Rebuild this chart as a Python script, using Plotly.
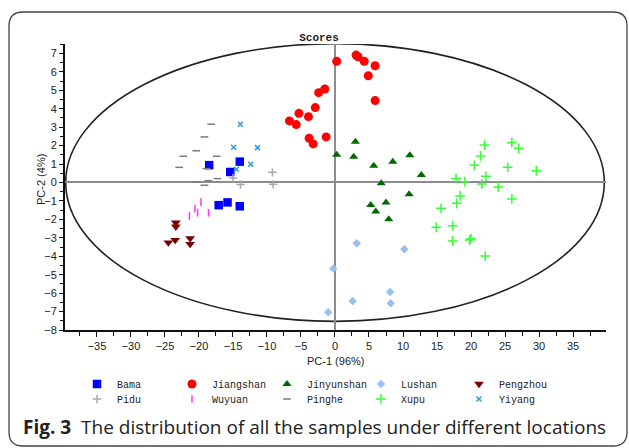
import plotly.graph_objects as go

# ---------------- data (PC-1, PC-2 scores) ----------------
bama_x = [-18.5, -14.0, -15.4, -17.1, -15.8, -14.0]
bama_y = [0.94, 1.13, 0.57, -1.23, -1.08, -1.29]

jiangshan_x = [0.25, 3.1, 3.4, 4.3, 5.9, 4.9, 5.9, -1.5, -2.4, -2.9, -5.3, -3.9, -6.7, -5.7, -3.8, -3.2, -1.3]
jiangshan_y = [6.57, 6.91, 6.82, 6.57, 6.33, 5.79, 4.44, 5.07, 4.87, 4.06, 3.75, 3.57, 3.34, 3.14, 2.40, 2.09, 2.47]

jinyunshan_x = [3.0, 0.25, 2.75, 5.7, 8.5, 11.0, 12.7, 6.8, 10.9, 5.25, 7.5, 6.0, 7.9]
jinyunshan_y = [2.21, 1.51, 1.40, 0.91, 1.13, 1.48, 0.41, -0.04, -0.64, -1.22, -1.08, -1.58, -2.00]

lushan_x = [3.2, 10.2, -0.25, 8.1, 2.6, 8.2, -1.0]
lushan_y = [-3.30, -3.62, -4.67, -5.94, -6.43, -6.55, -7.04]

pengzhou_x = [-23.4, -23.4, -23.5, -24.5, -21.3, -21.3]
pengzhou_y = [-2.18, -2.40, -3.12, -3.26, -3.03, -3.34]

pidu_x = [-15.0, -13.9, -9.2, -9.1]
pidu_y = [0.24, -0.11, 0.55, -0.10]

wuyuan_x = [-19.7, -20.6, -20.2, -21.4, -18.6]
wuyuan_y = [-1.06, -1.42, -1.64, -1.82, -1.64]

pinghe_x = [-18.2, -19.2, -20.4, -22.3, -17.4, -22.9, -18.9, -17.3, -18.6, -20.6, -19.2]
pinghe_y = [3.16, 2.47, 1.72, 1.42, 1.42, 0.82, 0.75, 0.21, 0.10, 0.04, -0.15]

xupu_x = [22.0, 26.0, 27.0, 21.4, 20.5, 25.4, 29.6, 17.8, 19.1, 22.2, 21.6, 24.0, 26.0,
          18.4, 17.9, 15.6, 14.9, 17.3, 17.3, 19.8, 20.0, 22.1]
xupu_y = [2.03, 2.16, 1.85, 1.44, 0.93, 0.82, 0.64, 0.21, 0.04, 0.34, -0.08, -0.24, -0.89,
          -0.73, -1.13, -1.40, -2.43, -2.34, -3.17, -3.12, -3.05, -3.99]

yiyang_x = [-13.9, -14.9, -11.4, -12.4, -14.5]
yiyang_y = [3.16, 1.91, 1.89, 0.99, 0.72]

# Hotelling ellipse semi-axes
ellipse_a = 39.6
ellipse_b = 7.53

x_tick_vals = list(range(-35, 40, 5))
y_tick_vals = list(range(-8, 8))

# ---------------- figure ----------------
W, H = 629, 448
ML, MR, MT, MB = 65, 23, 44, 118
PW, PH = W - ML - MR, H - MT - MB

def px2paper_x(px):
    return (px - ML) / PW

def px2paper_y(py):
    return (H - MB - py) / PH

series = [
    # name, x, y, symbol, size, color, line width
    ("Bama", bama_x, bama_y, "square", 8.5, "#0000ff", 0),
    ("Jiangshan", jiangshan_x, jiangshan_y, "circle", 9, "#ff0000", 0),
    ("Jinyunshan", jinyunshan_x, jinyunshan_y, "triangle-up", 8, "#006a00", 0),
    ("Lushan", lushan_x, lushan_y, "diamond", 6.5, "#99c0ee", 0),
    ("Pengzhou", pengzhou_x, pengzhou_y, "triangle-down", 8.5, "#7a0000", 0),
    ("Pidu", pidu_x, pidu_y, "cross-thin", 6, "#a8a8a8", 1.5),
    ("Wuyuan", wuyuan_x, wuyuan_y, "line-ns", 5.5, "#ff33ff", 1.5),
    ("Pinghe", pinghe_x, pinghe_y, "line-ew", 5.5, "#7a7a7a", 1.5),
    ("Xupu", xupu_x, xupu_y, "cross-thin", 7, "#33ff33", 1.5),
    ("Yiyang", yiyang_x, yiyang_y, "x-thin", 5, "#3399dd", 1.5),
]

# legend grid (marker centre positions in pixels): 5 columns x 2 rows
leg_cols = [97, 192, 287, 381, 479]
leg_rows = [384, 399]

legfont = dict(family="Liberation Mono, Courier New, monospace", size=10, color="#222222")

fig = go.Figure()
legend_layouts = {}
for i, (name, xs, ys, sym, size, col, lw) in enumerate(series):
    marker = dict(symbol=sym, size=size, color=col)
    if lw:
        marker["line"] = dict(color=col, width=lw)
    else:
        marker["line"] = dict(width=0)
    lid = "legend" if i == 0 else f"legend{i + 1}"
    fig.add_trace(go.Scatter(x=xs, y=ys, mode="markers", name=name,
                             marker=marker, legend=lid))
    cx = leg_cols[i % 5]
    cy = leg_rows[i // 5]
    legend_layouts[lid] = dict(orientation="h", xref="container", yref="container",
                               x=(cx - 20) / W, y=1 - cy / H, xanchor="left", yanchor="middle",
                               font=legfont, bgcolor="rgba(0,0,0,0)",
                               itemclick=False, itemdoubleclick=False)

# ellipse
fig.add_shape(type="circle", xref="x", yref="y",
              x0=-ellipse_a, x1=ellipse_a, y0=-ellipse_b, y1=ellipse_b,
              line=dict(color="#222222", width=1.6), layer="below")

# outer rounded border
bl, bt, br, bb, rr = 9, 12, 627, 446, 14
def P(px, py):
    return f"{px2paper_x(px):.5f},{px2paper_y(py):.5f}"
path = ("M " + P(bl + rr, bt) + " L " + P(br - rr, bt) + " Q " + P(br, bt) + " " + P(br, bt + rr) +
        " L " + P(br, bb - rr) + " Q " + P(br, bb) + " " + P(br - rr, bb) +
        " L " + P(bl + rr, bb) + " Q " + P(bl, bb) + " " + P(bl, bb - rr) +
        " L " + P(bl, bt + rr) + " Q " + P(bl, bt) + " " + P(bl + rr, bt) + " Z")
fig.add_shape(type="path", xref="paper", yref="paper", path=path,
              line=dict(color="#444444", width=1.3), layer="below")

tickfont = dict(family="Liberation Sans, Arial, sans-serif", size=11, color="#222222")

fig.update_xaxes(range=[-39.7, 39.85], tickvals=x_tick_vals, ticks="outside", ticklen=5,
                 tickwidth=1.2, tickcolor="#111111",
                 minor=dict(dtick=2.5, ticks="outside", ticklen=4, tickcolor="#111111", tickwidth=1),
                 showline=True, linecolor="#111111", linewidth=2, showgrid=False,
                 zeroline=True, zerolinecolor="#8c8c8c", zerolinewidth=2,
                 tickfont=tickfont, fixedrange=True)
fig.update_yaxes(range=[-8, 7.51], tickvals=y_tick_vals, ticks="outside", ticklen=4,
                 tickwidth=1.2, tickcolor="#111111",
                 minor=dict(dtick=0.5, ticks="outside", ticklen=3, tickcolor="#111111", tickwidth=1),
                 showline=True, linecolor="#111111", linewidth=2, showgrid=False,
                 zeroline=True, zerolinecolor="#8c8c8c", zerolinewidth=2,
                 tickfont=tickfont, fixedrange=True)

fig.update_layout(
    width=W, height=H,
    margin=dict(l=ML, r=MR, t=MT, b=MB),
    paper_bgcolor="white", plot_bgcolor="white",
    showlegend=True,
    title=dict(text="<b>Scores</b>", x=319 / W, xanchor="center", xref="container",
               y=1 - 37 / H, yanchor="middle", yref="container",
               font=dict(family="Liberation Mono, Courier New, monospace", size=11, color="#222222")),
    **legend_layouts,
)

# axis titles
fig.add_annotation(text="PC-1 (96%)", xref="paper", yref="paper",
                   x=px2paper_x(335), y=px2paper_y(361), showarrow=False,
                   xanchor="center", yanchor="middle",
                   font=dict(family="Liberation Sans, Arial, sans-serif", size=11, color="#222222"))
fig.add_annotation(text="PC-2 (4%)", xref="paper", yref="paper",
                   x=px2paper_x(41), y=px2paper_y(180), showarrow=False, textangle=-90,
                   xanchor="center", yanchor="middle",
                   font=dict(family="Liberation Sans, Arial, sans-serif", size=11, color="#222222"))
# caption
fig.add_annotation(text="<b>Fig. 3</b>  The distribution of all the samples under different locations",
                   xref="paper", yref="paper", x=px2paper_x(21), y=px2paper_y(427),
                   showarrow=False, xanchor="left", yanchor="middle",
                   font=dict(family="Open Sans, Noto Sans, sans-serif", size=19, color="#222222"))

fig.write_html("out.html")
